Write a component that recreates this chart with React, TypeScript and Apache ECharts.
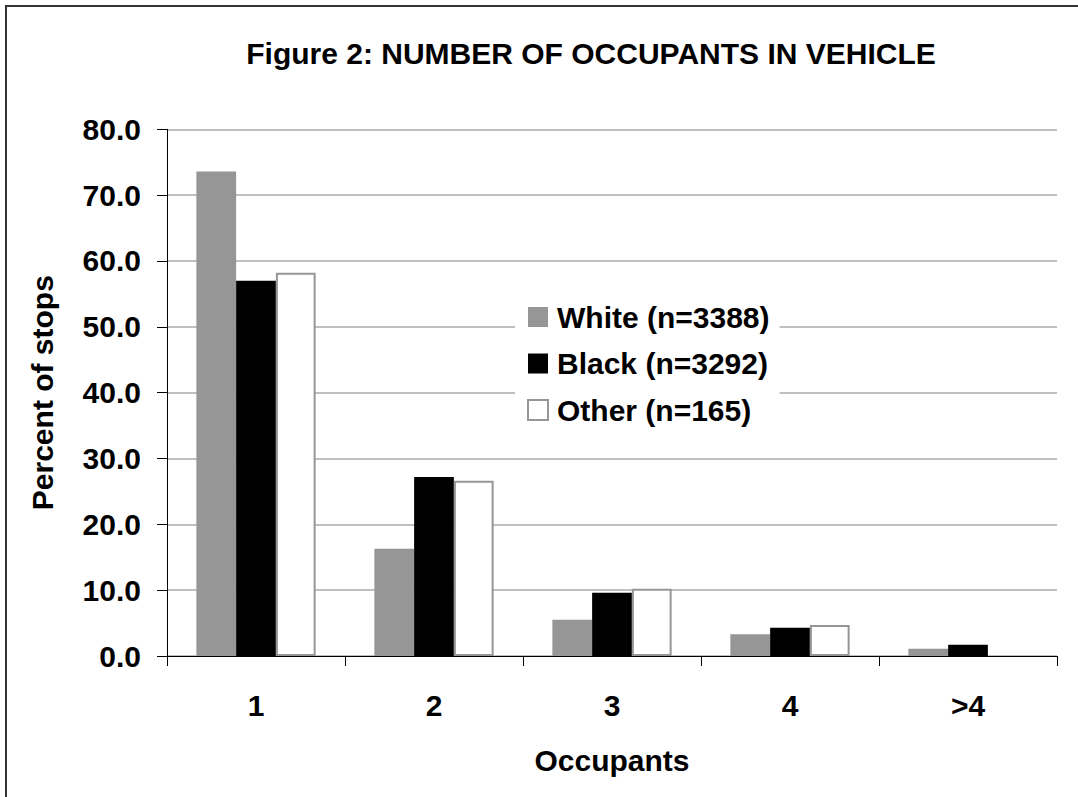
import React, { useEffect, useRef } from "react";
import * as echarts from "echarts";

const categories = ["1", "2", "3", "4", ">4"];
const whiteValues = [73.6, 16.3, 5.5, 3.3, 1.1];
const blackValues = [57.0, 27.2, 9.6, 4.3, 1.7];
const otherValues = [58.2, 26.6, 10.2, 4.7, 0];
const seriesNames = ["White (n=3388)", "Black (n=3292)", "Other (n=165)"];
const yTicks = { min: 0, max: 80, interval: 10 };

const FONT = "'Liberation Sans', Arial, sans-serif";
const FS = 30;

export default function App() {
  const ref = useRef<HTMLDivElement>(null);
  useEffect(() => {
    if (!ref.current) return;
    const chart = echarts.init(ref.current, null, { renderer: "svg" });
    chart.setOption({
      animation: false,
      backgroundColor: "#fff",
      textStyle: { fontFamily: FONT },
      graphic: [
        {
          type: "rect",
          shape: { x: 6, y: 6, width: 1200, height: 900 },
          style: { fill: "none", stroke: "#333", lineWidth: 2 },
          silent: true,
          z: 0,
        },
        {
          type: "text",
          x: 591,
          y: 53,
          style: {
            text: "Figure 2: NUMBER OF OCCUPANTS IN VEHICLE",
            font: `bold ${FS}px ${FONT}`,
            fill: "#000",
            textAlign: "center",
            textVerticalAlign: "middle",
          },
        },
      ],
      grid: { left: 167, right: 21, top: 129.3, bottom: 141, containLabel: false },
      legend: {
        orient: "vertical",
        left: 515,
        top: 298,
        padding: [4, 10, 4, 12],
        backgroundColor: "#fff",
        icon: "rect",
        itemWidth: 20,
        itemHeight: 20,
        itemGap: 16.5,
        textStyle: { fontSize: FS, fontWeight: "bold", color: "#000", fontFamily: FONT, padding: [0, 0, 0, 4] },
        data: seriesNames,
      },
      xAxis: {
        type: "category",
        data: categories,
        name: "Occupants",
        nameLocation: "middle",
        nameGap: 89,
        nameTextStyle: { fontSize: FS, fontWeight: "bold", color: "#000", fontFamily: FONT },
        axisLine: { lineStyle: { color: "#000", width: 1 } },
        axisTick: { show: true, length: 10, lineStyle: { color: "#000" } },
        axisLabel: { fontSize: FS, fontWeight: "bold", color: "#000", margin: 34, fontFamily: FONT },
      },
      yAxis: {
        type: "value",
        min: yTicks.min,
        max: yTicks.max,
        interval: yTicks.interval,
        name: "Percent of stops",
        nameLocation: "middle",
        nameGap: 110,
        nameTextStyle: { fontSize: FS, fontWeight: "bold", color: "#000", fontFamily: FONT },
        axisLine: { show: true, lineStyle: { color: "#000", width: 1 } },
        axisTick: { show: true, length: 10, lineStyle: { color: "#000" } },
        axisLabel: {
          fontSize: FS,
          fontWeight: "bold",
          color: "#000",
          margin: 26,
          fontFamily: FONT,
          formatter: (v: number) => v.toFixed(1),
        },
        splitLine: { lineStyle: { color: "#c0c0c0", width: 2 } },
      },
      series: [
        {
          name: seriesNames[0],
          type: "bar",
          data: whiteValues,
          barGap: "0%",
          barCategoryGap: "33%",
          itemStyle: { color: "#969696" },
        },
        {
          name: seriesNames[1],
          type: "bar",
          data: blackValues,
          barGap: "0%",
          barCategoryGap: "33%",
          itemStyle: { color: "#000" },
        },
        {
          name: seriesNames[2],
          type: "bar",
          data: otherValues.map((v) => (v === 0 ? null : v)),
          barGap: "0%",
          barCategoryGap: "33%",
          itemStyle: { color: "#fff", borderColor: "#969696", borderWidth: 2 },
        },
      ],
    });
    return () => chart.dispose();
  }, []);
  return <div ref={ref} style={{ width: 1078, height: 797, position: "absolute", left: 0, top: 0 }} />;
}
